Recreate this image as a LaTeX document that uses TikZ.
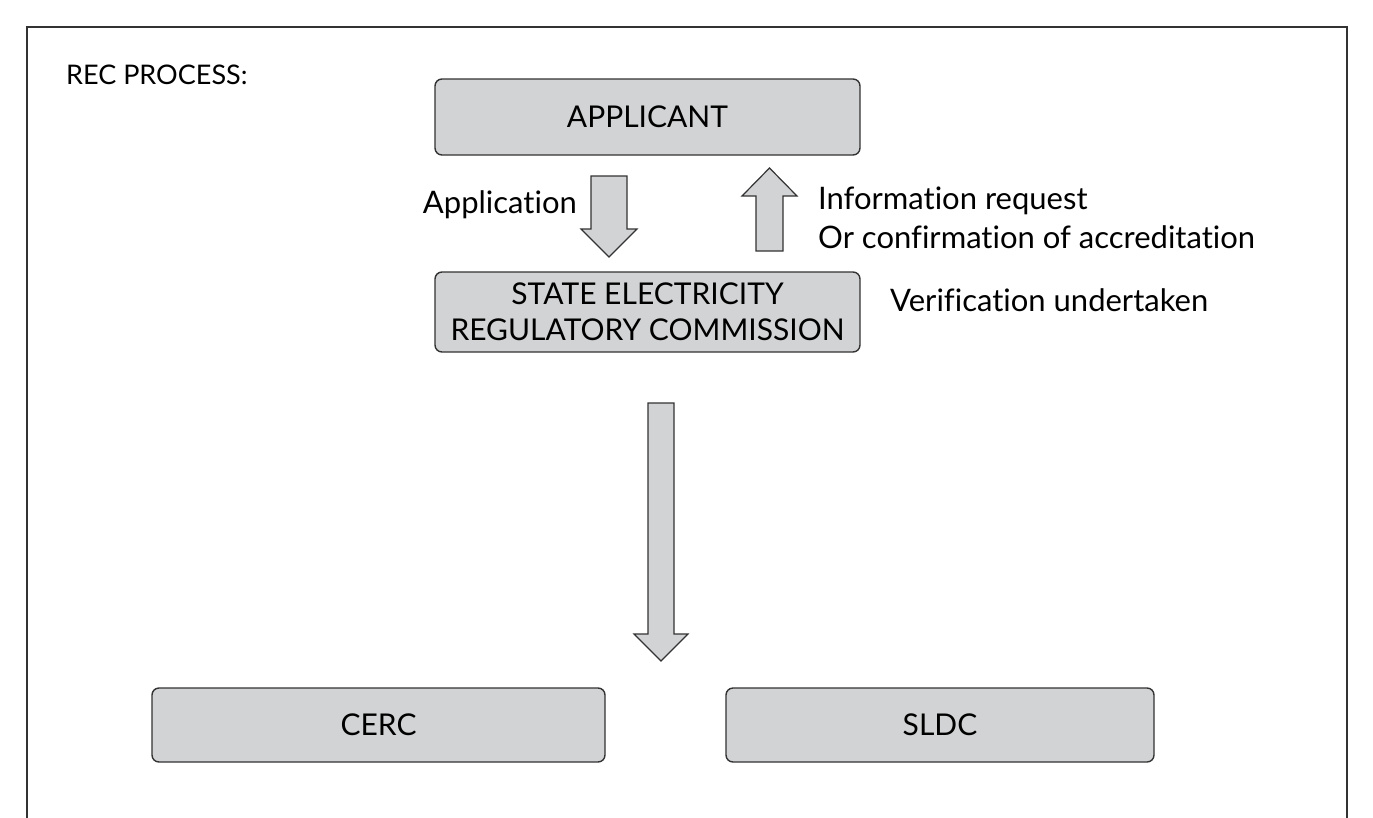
\documentclass[tikz,border=0pt]{standalone}
\usepackage{fontspec}
\setmainfont[Ligatures=NoCommon]{Lato}
\begin{document}
\begin{tikzpicture}[x=1pt,y=-1pt,
  box/.style={draw=black!80,line width=1.4pt,fill=boxgray,rounded corners=7pt,inner sep=0pt,align=center,font=\fontsize{30}{36}\selectfont},
  lbl/.style={inner sep=0pt,anchor=west,font=\fontsize{31}{36}\selectfont},
  barrow/.style={draw=black!80,line width=1.2pt,fill=boxgray,line join=miter}]
\definecolor{boxgray}{HTML}{D1D3D4}
\useasboundingbox (0,0) rectangle (1373,817);
\clip (0,0) rectangle (1373,817);
\draw[black!80,line width=1.6pt] (27,830) -- (27,27) -- (1347,27) -- (1347,830);
\node[lbl,font=\fontsize{27}{36}\selectfont] (title) at (66,75) {REC PROCESS:};
\node[box,minimum width=425pt,minimum height=76pt] (app) at (647.5,117) {APPLICANT};
\node[box,minimum width=425pt,minimum height=80pt] (serc) at (647.5,312) {STATE ELECTRICITY\\REGULATORY COMMISSION};
\node[box,minimum width=453pt,minimum height=74pt] (cerc) at (378.5,725) {CERC};
\node[box,minimum width=428pt,minimum height=74pt] (sldc) at (940,725) {SLDC};
% application arrow (down)
\draw[barrow] (591,176) -- (627,176) -- (627,229) -- (637,229) -- (609,257) -- (581,229) -- (591,229) -- cycle;
\node[lbl,anchor=east] (appl) at (577,205) {Application};
% information arrow (up)
\draw[barrow] (756,251) -- (783,251) -- (783,196) -- (797,196) -- (769.5,168) -- (742,196) -- (756,196) -- cycle;
\node[lbl] (info1) at (818,201) {Information request};
\node[lbl] (info2) at (818,237) {Or confirmation of accreditation};
\node[lbl] (verif) at (890,300) {Verification undertaken};
% big arrow
\draw[barrow] (648,403) -- (674,403) -- (674,634) -- (688,634) -- (661,661) -- (634,634) -- (648,634) -- cycle;
\end{tikzpicture}
\end{document}
